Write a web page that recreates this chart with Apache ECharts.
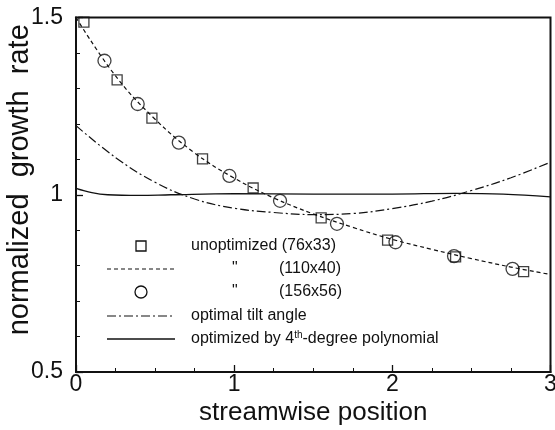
<!DOCTYPE html>
<html>
<head>
<meta charset="utf-8">
<script src="https://cdn.jsdelivr.net/npm/echarts@6/dist/echarts.min.js"></script>
<style>
  html, body { margin: 0; padding: 0; background: #fff; }
  #chart { width: 555px; height: 430px; }
</style>
</head>
<body>
<div id="chart"></div>
<script>
// Streamwise growth-rate data (x = streamwise position, y = normalized growth rate)
const unoptX33   = [0.05, 0.26, 0.48, 0.80, 1.12, 1.55, 1.97, 2.40, 2.83];
const unoptY33   = [1.487, 1.324, 1.216, 1.101, 1.019, 0.935, 0.872, 0.825, 0.783];

const unoptX40   = [0, 0.25, 0.5, 0.75, 1.0, 1.25, 1.5, 1.75, 2.0, 2.25, 2.5, 2.75, 3.0];
const unoptY40   = [1.50, 1.335, 1.213, 1.118, 1.047, 0.991, 0.946, 0.908, 0.874, 0.846, 0.820, 0.796, 0.775];

const unoptX56   = [0.18, 0.39, 0.65, 0.97, 1.29, 1.65, 2.02, 2.39, 2.76];
const unoptY56   = [1.378, 1.256, 1.147, 1.053, 0.983, 0.918, 0.866, 0.827, 0.791];

const tiltX      = [0, 0.25, 0.5, 0.75, 1.0, 1.25, 1.5, 1.75, 2.0, 2.25, 2.5, 2.75, 3.0];
const tiltY      = [1.195, 1.105, 1.035, 0.988, 0.962, 0.950, 0.944, 0.947, 0.961, 0.982, 1.012, 1.048, 1.092];

const polyX      = [0, 0.1, 0.2, 0.4, 0.6, 1.0, 1.5, 2.0, 2.4, 2.7, 3.0];
const polyY      = [1.018, 1.006, 1.000, 0.998, 1.000, 1.003, 1.002, 1.002, 1.004, 1.002, 0.994];

const xTicks = [0, 1, 2, 3];
const yTicks = [0.5, 1, 1.5];

const zip = (xs, ys) => xs.map((x, i) => [x, ys[i]]);

const INK = '#111';
const FONT = '"Liberation Sans", Arial, Helvetica, sans-serif';
const LEG_FONT = '16px ' + FONT;

const chart = echarts.init(document.getElementById('chart'), null, { renderer: 'canvas' });

// Legend rows drawn as graphics
const legendRows = [246, 269, 292, 316, 339];
const symL = 107, symR = 175, symC = 141, txtX = 191;

const legendGraphics = [
  { type: 'rect', shape: { x: symC - 5, y: legendRows[0] - 5, width: 10, height: 10 },
    style: { fill: 'none', stroke: INK, lineWidth: 1.3 } },
  { type: 'text', x: txtX, y: legendRows[0], style: { text: 'unoptimized (76x33)', font: LEG_FONT, fill: INK, textVerticalAlign: 'middle' } },

  { type: 'line', shape: { x1: symL, y1: legendRows[1], x2: symR, y2: legendRows[1] },
    style: { stroke: INK, lineWidth: 1.2, lineDash: [4, 3] } },
  { type: 'text', x: 232, y: legendRows[1], style: { text: '"', font: LEG_FONT, fill: INK, textVerticalAlign: 'middle' } },
  { type: 'text', x: 279, y: legendRows[1], style: { text: '(110x40)', font: LEG_FONT, fill: INK, textVerticalAlign: 'middle' } },

  { type: 'circle', shape: { cx: symC, cy: legendRows[2], r: 6 },
    style: { fill: 'none', stroke: INK, lineWidth: 1.3 } },
  { type: 'text', x: 232, y: legendRows[2], style: { text: '"', font: LEG_FONT, fill: INK, textVerticalAlign: 'middle' } },
  { type: 'text', x: 279, y: legendRows[2], style: { text: '(156x56)', font: LEG_FONT, fill: INK, textVerticalAlign: 'middle' } },

  { type: 'line', shape: { x1: symL, y1: legendRows[3], x2: symR, y2: legendRows[3] },
    style: { stroke: INK, lineWidth: 1.2, lineDash: [9, 3, 2, 3] } },
  { type: 'text', x: txtX, y: legendRows[3], style: { text: 'optimal tilt angle', font: LEG_FONT, fill: INK, textVerticalAlign: 'middle' } },

  { type: 'line', shape: { x1: symL, y1: legendRows[4], x2: symR, y2: legendRows[4] },
    style: { stroke: INK, lineWidth: 1.3 } },
  { type: 'text', x: txtX, y: legendRows[4],
    style: {
      text: '{n|optimized by 4}{s|th}{n|-degree polynomial}',
      textVerticalAlign: 'middle',
      rich: {
        n: { font: LEG_FONT, fill: INK },
        s: { font: '10px ' + FONT, fill: INK, verticalAlign: 'top', padding: [0, 0, 7, 0] }
      }
    } }
];

const option = {
  animation: false,
  backgroundColor: '#fff',
  grid: { left: 76, top: 17.5, width: 474.5, height: 354.5, show: true, borderColor: INK, borderWidth: 2,
          containLabel: false, outerBoundsMode: 'none' },
  xAxis: {
    type: 'value', min: 0, max: 3, interval: 1,
    name: 'streamwise position', nameLocation: 'middle', nameGap: 28, nameMoveOverlap: false,
    nameTextStyle: { fontFamily: FONT, fontSize: 26, color: INK },
    axisLine: { show: true, onZero: false, lineStyle: { color: INK, width: 2 } },
    axisTick: { show: true, inside: true, length: 7, lineStyle: { color: INK, width: 1.3 } },
    minorTick: { show: true, splitNumber: 4, length: 4, lineStyle: { color: INK, width: 1 } },
    axisLabel: { fontFamily: FONT, fontSize: 23, color: INK, margin: 1,
                 formatter: v => xTicks.includes(v) ? String(v) : '' },
    splitLine: { show: false }
  },
  yAxis: {
    type: 'value', min: 0.5, max: 1.5, interval: 0.5,
    name: 'normalized  growth  rate', nameLocation: 'middle', nameGap: 42, nameMoveOverlap: false,
    nameTextStyle: { fontFamily: FONT, fontSize: 29, color: INK, padding: [0, 0, 0, 30] },
    axisLine: { show: true, onZero: false, lineStyle: { color: INK, width: 2 } },
    axisTick: { show: true, inside: true, length: 7, lineStyle: { color: INK, width: 1.3 } },
    minorTick: { show: true, splitNumber: 5, length: 4, lineStyle: { color: INK, width: 1 } },
    axisLabel: { fontFamily: FONT, fontSize: 23, color: INK, margin: 13,
                 formatter: v => yTicks.includes(v) ? String(v) : '' },
    splitLine: { show: false }
  },
  series: [
    {
      name: 'optimized by 4th-degree polynomial', type: 'line', smooth: 0.4,
      data: zip(polyX, polyY), showSymbol: false,
      lineStyle: { color: INK, width: 1.3 }
    },
    {
      name: 'optimal tilt angle', type: 'line', smooth: 0.4,
      data: zip(tiltX, tiltY), showSymbol: false,
      lineStyle: { color: INK, width: 1.2, type: [9, 3, 2, 3] }
    },
    {
      name: 'unoptimized (110x40)', type: 'line', smooth: 0.4,
      data: zip(unoptX40, unoptY40), showSymbol: false,
      lineStyle: { color: INK, width: 1.2, type: [4, 3] }
    },
    {
      name: 'unoptimized (76x33)', type: 'scatter',
      data: zip(unoptX33, unoptY33), symbol: 'rect', symbolSize: 10,
      itemStyle: { color: 'rgba(0,0,0,0)', borderColor: INK, borderWidth: 1.3 }
    },
    {
      name: 'unoptimized (156x56)', type: 'scatter',
      data: zip(unoptX56, unoptY56), symbol: 'circle', symbolSize: 13,
      itemStyle: { color: 'rgba(0,0,0,0)', borderColor: INK, borderWidth: 1.3 }
    }
  ],
  graphic: legendGraphics
};

chart.setOption(option);
</script>
</body>
</html>
